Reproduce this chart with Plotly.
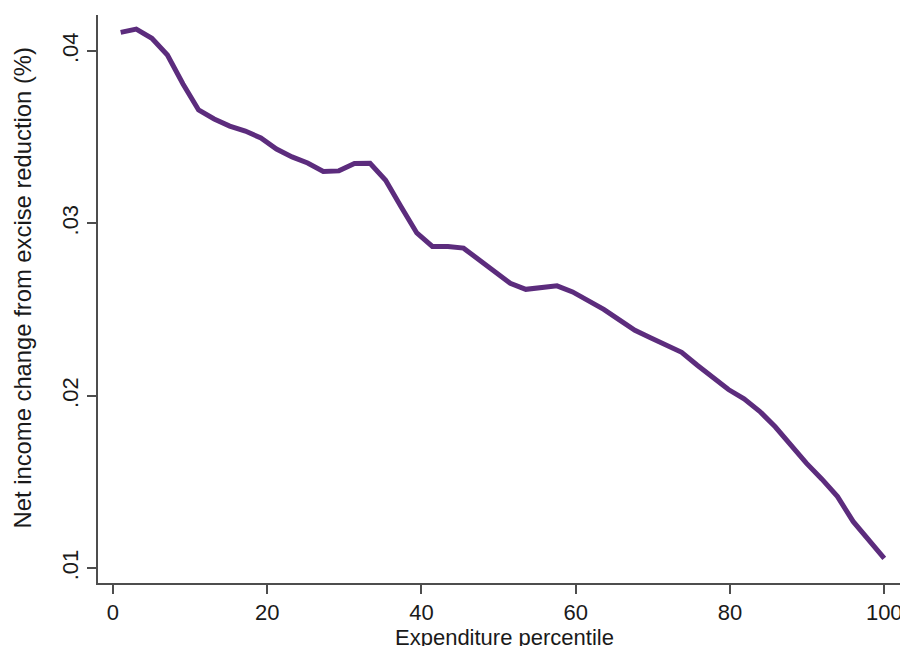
import plotly.graph_objects as go

# Expenditure percentile (50 points spread over 1..100)
percentile = [1.00, 3.02, 5.04, 7.06, 9.08, 11.10, 13.12, 15.14, 17.16, 19.18,
              21.20, 23.22, 25.24, 27.27, 29.29, 31.31, 33.33, 35.35, 37.37, 39.39,
              41.41, 43.43, 45.45, 47.47, 49.49, 51.51, 53.53, 55.55, 57.57, 59.59,
              61.61, 63.63, 65.65, 67.67, 69.69, 71.71, 73.73, 75.76, 77.78, 79.80,
              81.82, 83.84, 85.86, 87.88, 89.90, 91.92, 93.94, 95.96, 97.98, 100.00]

net_income_change = [0.04108, 0.04127, 0.04074, 0.03977, 0.03809, 0.03658, 0.03606, 0.03565, 0.03536, 0.03496,
                     0.03432, 0.03386, 0.03351, 0.03302, 0.03305, 0.03348, 0.03349, 0.03250, 0.03096, 0.02945,
                     0.02867, 0.02867, 0.02857, 0.02789, 0.02719, 0.02653, 0.02618, 0.02627, 0.02638, 0.02603,
                     0.02554, 0.02502, 0.02441, 0.02380, 0.02337, 0.02294, 0.02253, 0.02178, 0.02107, 0.02037,
                     0.01983, 0.01911, 0.01821, 0.01714, 0.01610, 0.01517, 0.01416, 0.01272, 0.01163, 0.01058]

x_tick_vals = [0, 20, 40, 60, 80, 100]
x_tick_text = ["0", "20", "40", "60", "80", "100"]
y_tick_vals = [0.01, 0.02, 0.03, 0.04]
y_tick_text = [".01", ".02", ".03", ".04"]

x_title = "Expenditure percentile"
y_title = "Net income change from excise reduction (%)"

font_family = "Liberation Sans, Arial, sans-serif"
text_color = "#1a1a1a"
axis_color = "#4d4d4d"

fig = go.Figure()
fig.add_trace(go.Scatter(
    x=percentile, y=net_income_change, mode="lines",
    line=dict(color="#5c2c7d", width=5),
    showlegend=False, hoverinfo="x+y",
))

fig.update_layout(
    width=900, height=638,
    margin=dict(l=90, r=6, t=7, b=63, autoexpand=False),
    paper_bgcolor="white", plot_bgcolor="white",
    font=dict(family=font_family, size=22, color=text_color),
    showlegend=False,
    annotations=[
        dict(text=x_title, xref="paper", yref="paper", x=0.5062, y=-0.0704,
             xanchor="center", yanchor="top", showarrow=False,
             font=dict(size=22, color=text_color)),
        dict(text=y_title, xref="paper", yref="paper", x=-0.0939, y=0.5194,
             xanchor="center", yanchor="middle", showarrow=False, textangle=-90,
             font=dict(size=23.8, color=text_color)),
    ],
)

fig.update_xaxes(
    range=[-1.94, 102.3],
    tickmode="array", tickvals=x_tick_vals, ticktext=x_tick_text,
    ticks="outside", ticklen=9, tickwidth=1.5, tickcolor=axis_color,
    showline=True, linecolor=axis_color, linewidth=1.5,
    showgrid=False, zeroline=False, automargin=False,
    tickfont=dict(size=22, color=text_color),
)

fig.update_yaxes(
    range=[0.00915, 0.04209],
    tickmode="array", tickvals=y_tick_vals, ticktext=y_tick_text,
    tickangle=-90,
    ticks="outside", ticklen=9, tickwidth=1.5, tickcolor=axis_color,
    showline=True, linecolor=axis_color, linewidth=1.5,
    showgrid=False, zeroline=False, automargin=False,
    tickfont=dict(size=22, color=text_color),
)

fig.write_html("out.html")
